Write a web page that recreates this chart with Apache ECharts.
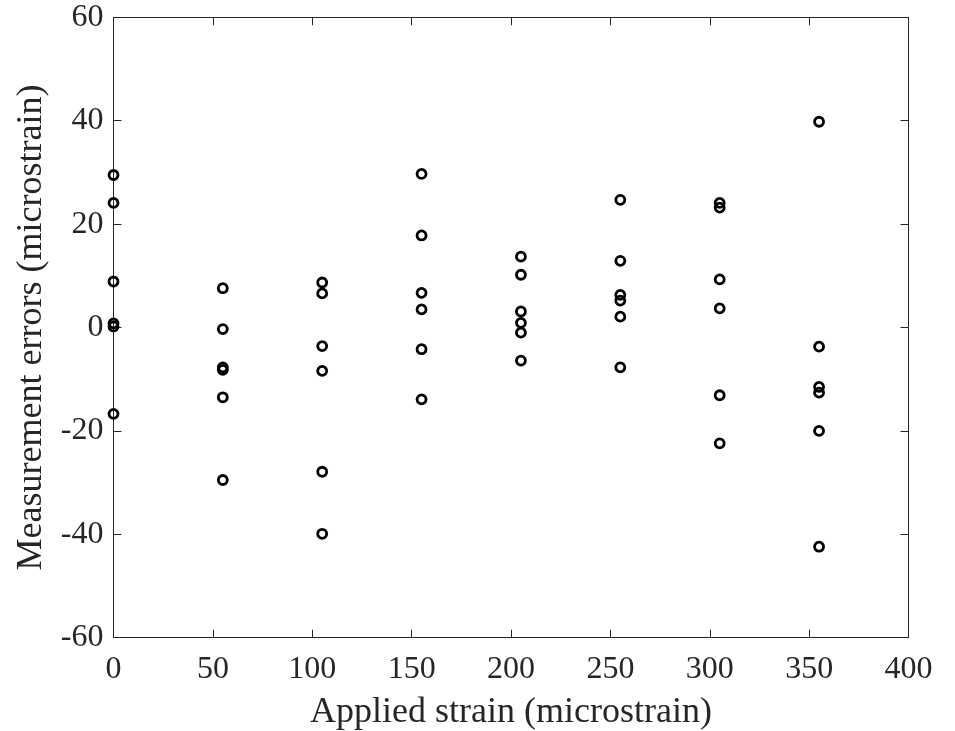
<!DOCTYPE html>
<html>
<head>
<meta charset="utf-8">
<script src="https://cdn.jsdelivr.net/npm/echarts@6/dist/echarts.min.js"></script>
<style>
  html, body { margin: 0; padding: 0; background: #fff; }
  #chart { width: 955px; height: 731px; }
</style>
</head>
<body>
<div id="chart"></div>
<script>
// applied strain levels (microstrain)
var strainLevels = [0, 55, 105, 155, 205, 255, 305, 355];
// measurement errors at each level, 6 repeats
var errAt0   = [29.5, 24.1, 8.9, 0.8, 0.2, -16.7];
var errAt55  = [7.6, -0.3, -7.7, -8.2, -13.5, -29.5];
var errAt105 = [8.7, 6.6, -3.6, -8.4, -27.9, -39.9];
var errAt155 = [29.7, 17.8, 6.7, 3.5, -4.2, -13.9];
var errAt205 = [13.7, 10.2, 3.1, 0.9, -1.0, -6.4];
var errAt255 = [24.7, 12.9, 6.3, 5.2, 2.1, -7.7];
var errAt305 = [24.1, 23.2, 9.3, 3.7, -13.1, -22.4];
var errAt355 = [39.8, -3.7, -11.5, -12.6, -20.0, -42.4];

var errGroups = [errAt0, errAt55, errAt105, errAt155, errAt205, errAt255, errAt305, errAt355];

var points = [];
for (var i = 0; i < strainLevels.length; i++) {
    for (var j = 0; j < errGroups[i].length; j++) {
        points.push([strainLevels[i], errGroups[i][j]]);
    }
}

var axisColor = '#262626';
var fontFam = '"Liberation Serif", "Times New Roman", serif';

var chart = echarts.init(document.getElementById('chart'));

// box axes (top / right) only draw line + inner ticks
function boxAxis(pos, mn, mx, step) {
    return {
        type: 'value',
        position: pos,
        min: mn,
        max: mx,
        interval: step,
        axisLine: { show: true, onZero: false, lineStyle: { color: axisColor, width: 1 } },
        axisTick: { show: true, inside: true, length: 8, lineStyle: { color: axisColor } },
        axisLabel: { show: false },
        splitLine: { show: false }
    };
}

var option = {
    animation: false,
    backgroundColor: '#fff',
    grid: {
        left: 113.5,
        right: 46.5,
        top: 17.3,
        bottom: 93.3,
        containLabel: false,
        outerBoundsMode: 'none'
    },
    xAxis: [{
        type: 'value',
        min: 0,
        max: 400,
        interval: 50,
        name: 'Applied strain (microstrain)',
        nameLocation: 'middle',
        nameGap: 57,
        nameTextStyle: { fontFamily: fontFam, fontSize: 36, color: axisColor },
        axisLine: { show: true, onZero: false, lineStyle: { color: axisColor, width: 1 } },
        axisTick: { show: true, inside: true, length: 8, lineStyle: { color: axisColor } },
        axisLabel: { fontFamily: fontFam, fontSize: 32, color: axisColor, margin: 16 },
        splitLine: { show: false }
    }, boxAxis('top', 0, 400, 50)],
    yAxis: [{
        type: 'value',
        min: -60,
        max: 60,
        interval: 20,
        name: 'Measurement errors (microstrain)',
        nameLocation: 'middle',
        nameGap: 63,
        nameTextStyle: { fontFamily: fontFam, fontSize: 36, color: axisColor },
        axisLine: { show: true, onZero: false, lineStyle: { color: axisColor, width: 1 } },
        axisTick: { show: true, inside: true, length: 8, lineStyle: { color: axisColor } },
        axisLabel: { fontFamily: fontFam, fontSize: 32, color: axisColor, margin: 10 },
        splitLine: { show: false }
    }, boxAxis('right', -60, 60, 20)],
    series: [{
        type: 'scatter',
        xAxisIndex: 0,
        yAxisIndex: 0,
        symbol: 'circle',
        symbolSize: 9,
        itemStyle: {
            color: 'rgba(0,0,0,0)',
            borderColor: '#000',
            borderWidth: 2.8,
            opacity: 1
        },
        data: points
    }]
};
chart.setOption(option);
</script>
</body>
</html>
